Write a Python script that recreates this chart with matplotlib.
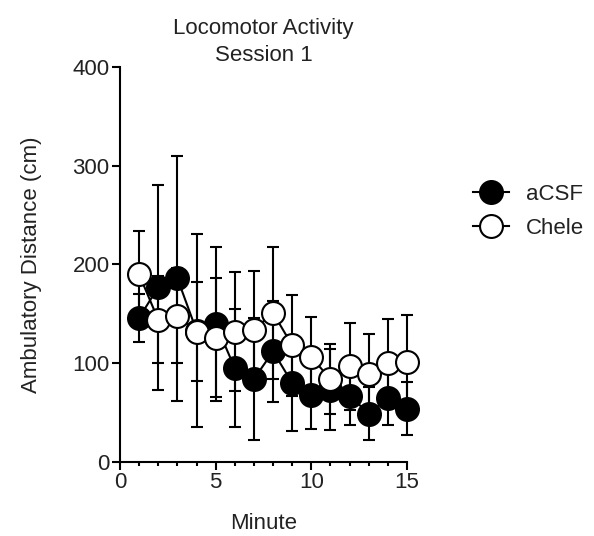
import matplotlib
matplotlib.use('Agg')
import matplotlib.pyplot as plt
from matplotlib.ticker import MultipleLocator

plt.rcParams['font.family'] = ['Liberation Sans', 'DejaVu Sans']

minutes = list(range(1, 16))
acsf_mean = [146, 177, 186, 133, 140, 95, 84, 112, 80, 68, 73, 67, 49, 65, 54]
acsf_err = [24, 104, 124, 98, 78, 60, 62, 51, 49, 35, 41, 30, 27, 28, 27]
chele_mean = [190, 144, 148, 132, 126, 132, 134, 151, 118, 106, 84, 97, 89, 100, 101]
chele_err = [44, 44, 48, 50, 60, 60, 59, 67, 51, 41, 35, 44, 41, 45, 48]
series_names = ['aCSF', 'Chele']
title_text = 'Locomotor Activity\nSession 1'
x_label = 'Minute'
y_label = 'Ambulatory Distance (cm)'

fig = plt.figure(figsize=(5.94, 5.36), dpi=100)
ax = fig.add_axes([0.2020, 0.1381, 0.4832, 0.7369])

FS = 16
TC = '#222222'
for mean, err in [(acsf_mean, acsf_err), (chele_mean, chele_err)]:
    ax.errorbar(minutes, mean, yerr=err, fmt='none', ecolor='black',
                elinewidth=1.5, capsize=4.5, capthick=1.5, zorder=2, clip_on=False)

ax.plot(minutes, acsf_mean, '-o', color='black', mfc='black', mec='black',
        ms=16.5, mew=1.5, lw=1.5, zorder=4, label=series_names[0], clip_on=False)
ax.plot(minutes, chele_mean, '-o', color='black', mfc='white', mec='black',
        ms=16.5, mew=1.5, lw=1.5, zorder=5, label=series_names[1], clip_on=False)

ax.set_xlim(0, 15)
ax.set_ylim(0, 400)
ax.xaxis.set_major_locator(MultipleLocator(5))
ax.xaxis.set_minor_locator(MultipleLocator(1))
ax.yaxis.set_major_locator(MultipleLocator(100))

for s in ['top', 'right']:
    ax.spines[s].set_visible(False)
for s in ['left', 'bottom']:
    ax.spines[s].set_linewidth(1.5)

ax.tick_params(axis='both', which='major', direction='out', length=5.5, width=1.5,
               labelsize=FS, pad=2, labelcolor=TC)
ax.tick_params(axis='x', which='minor', direction='out', length=3, width=1.5)

ax.set_title(title_text, fontsize=FS, pad=4.5, linespacing=1.35, color=TC)
ax.set_xlabel(x_label, fontsize=FS, labelpad=14, color=TC)
ax.set_ylabel(y_label, fontsize=FS, labelpad=22, color=TC)

leg = ax.legend(loc='center left', bbox_to_anchor=(0.797, 0.606),
                bbox_transform=fig.transFigure, frameon=False, fontsize=FS,
                handlelength=1.6, handletextpad=0.75, labelspacing=0.6,
                borderpad=0, borderaxespad=0)
for t in leg.get_texts():
    t.set_color(TC)

fig.savefig('out.png', dpi=100, facecolor='white')
